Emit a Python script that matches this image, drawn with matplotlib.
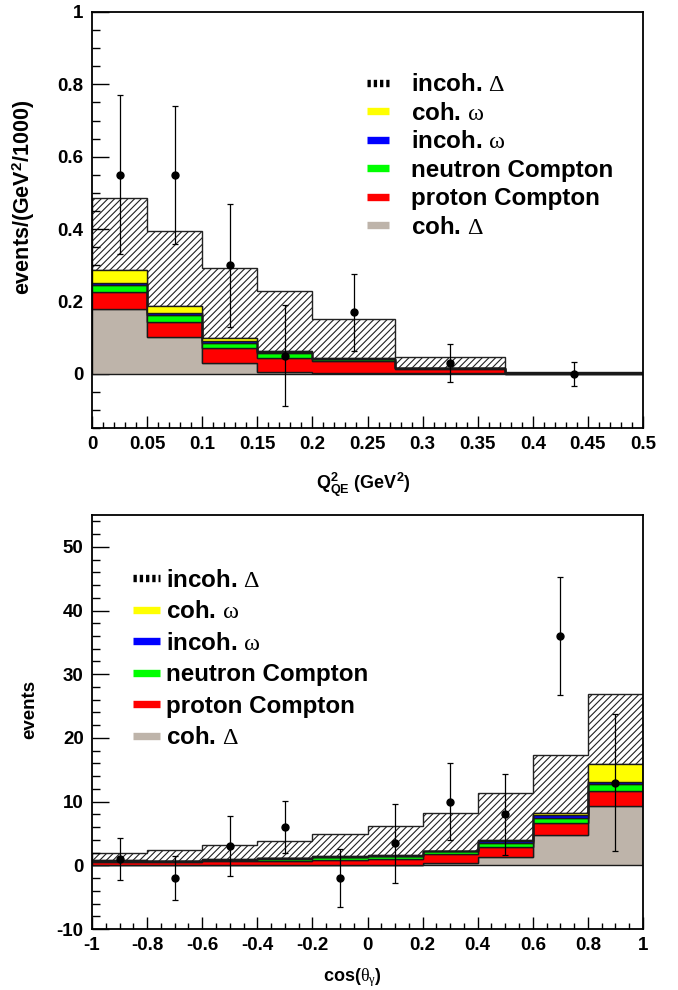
import numpy as np
import matplotlib
matplotlib.use("Agg")
import matplotlib.pyplot as plt
from matplotlib.lines import Line2D
from matplotlib.ticker import MultipleLocator, FuncFormatter

plt.rcParams["font.family"] = "Liberation Sans"
plt.rcParams["font.weight"] = "bold"
plt.rcParams["axes.labelweight"] = "bold"
plt.rcParams["mathtext.fontset"] = "custom"
plt.rcParams["mathtext.rm"] = "Liberation Serif:weight=normal"
plt.rcParams["mathtext.it"] = "Liberation Serif:italic:weight=normal"
plt.rcParams["mathtext.bf"] = "Liberation Sans:bold"
plt.rcParams["hatch.linewidth"] = 0.8

# ---- top panel: Q2_QE distribution ----
q2_edges = [0, 0.05, 0.1, 0.15, 0.2, 0.275, 0.375, 0.5]
q2_coh_delta = [0.180, 0.101, 0.029, 0.005, 0.002, 0.001, 0.0]
q2_proton = [0.045, 0.043, 0.041, 0.038, 0.032, 0.012, 0.002]
q2_neutron = [0.020, 0.019, 0.016, 0.015, 0.007, 0.003, 0.0005]
q2_incoh_omega = [0.006, 0.005, 0.004, 0.002, 0.001, 0.0005, 0.0]
q2_coh_omega = [0.037, 0.020, 0.009, 0.002, 0.001, 0.0005, 0.0]
q2_incoh_delta = [0.199, 0.206, 0.192, 0.168, 0.108, 0.029, 0.001]

q2_data = [0.55, 0.55, 0.30, 0.05, 0.17, 0.03, 0.0]
q2_err = [0.22, 0.19, 0.17, 0.14, 0.107, 0.053, 0.033]

# ---- bottom panel: cos(theta_gamma) distribution ----
cos_edges = [-1, -0.8, -0.6, -0.4, -0.2, 0, 0.2, 0.4, 0.6, 0.8, 1]
cos_coh_delta = [0.0, 0.0, 0.0, 0.05, 0.05, 0.05, 0.3, 1.3, 4.8, 9.3]
cos_proton = [0.5, 0.55, 0.63, 0.7, 0.75, 1.0, 1.4, 1.6, 1.9, 2.3]
cos_neutron = [0.2, 0.1, 0.22, 0.3, 0.45, 0.35, 0.5, 0.65, 0.8, 1.1]
cos_incoh_omega = [0.05, 0.03, 0.05, 0.07, 0.1, 0.1, 0.05, 0.3, 0.35, 0.4]
cos_coh_omega = [0.03, 0.02, 0.04, 0.03, 0.06, 0.07, 0.05, 0.05, 0.3, 2.8]
cos_incoh_delta = [1.15, 1.76, 2.19, 2.72, 3.45, 4.63, 5.85, 7.4, 9.2, 11.0]

cos_data = [1, -2, 3, 6, -2, 3.5, 10, 8, 36, 13]
cos_err = [3.3, 3.5, 4.7, 4.1, 4.6, 6.2, 6.1, 6.4, 9.3, 10.8]

labels = ["incoh. $\\mathrm{\\Delta}$", "coh. $\\mathrm{\\omega}$",
          "incoh. $\\mathrm{\\omega}$", "neutron Compton",
          "proton Compton", "coh. $\\mathrm{\\Delta}$"]
colors = ["#ffff00", "#0000ff", "#00ff00", "#ff0000", "#beb4aa"]


def fmt(v, pos):
    return "%g" % round(v, 6)


def draw_stack(ax, edges, comps):
    # comps from bottom: coh delta, proton, neutron, incoh omega, coh omega, incoh delta
    base = np.zeros(len(edges) - 1)
    fills = ["#beb4aa", "#ff0000", "#00ff00", "#0000ff", "#ffff00"]
    for vals, c in zip(comps[:5], fills):
        top = base + np.array(vals)
        ax.stairs(top, edges, baseline=base, fill=True, facecolor=c,
                  edgecolor="#1a1a1a", linewidth=1.0, zorder=2)
        base = top
    top = base + np.array(comps[5])
    ax.stairs(top, edges, baseline=base, fill=True, facecolor="white",
              edgecolor="#222222", hatch="/////", linewidth=1.0, zorder=1.5)


def style_axes(ax):
    for s in ax.spines.values():
        s.set_linewidth(1.3)
    ax.tick_params(which="both", direction="in", top=False, right=False,
                   labelsize=13.5, width=1.0, pad=6)
    ax.tick_params(axis="y", which="major", length=12)
    ax.tick_params(axis="y", which="minor", length=6)
    ax.tick_params(axis="x", which="major", length=9)
    ax.tick_params(axis="x", which="minor", length=4.5)
    ax.xaxis.set_major_formatter(FuncFormatter(fmt))
    ax.yaxis.set_major_formatter(FuncFormatter(fmt))


def legend_handles():
    h = [Line2D([], [], color="black", lw=5.3, dashes=(0.45, 0.4))]
    for c in colors:
        h.append(Line2D([], [], color=c, lw=5.3, solid_capstyle="butt"))
    return h


fig = plt.figure(figsize=(6.78, 9.9), dpi=100)

# top panel
ax1 = fig.add_axes([92 / 678, 1 - 428 / 990, 551 / 678, 416 / 990])
draw_stack(ax1, q2_edges,
           [q2_coh_delta, q2_proton, q2_neutron, q2_incoh_omega, q2_coh_omega, q2_incoh_delta])
q2_x = (np.array(q2_edges[:-1]) + np.array(q2_edges[1:])) / 2
ax1.errorbar(q2_x, q2_data, yerr=q2_err, fmt="o", color="black", ms=5,
             elinewidth=0.9, capsize=2, capthick=0.9, zorder=5)
ax1.set_xlim(0, 0.5)
ax1.set_ylim(-0.15, 1)
ax1.xaxis.set_major_locator(MultipleLocator(0.05))
ax1.xaxis.set_minor_locator(MultipleLocator(0.01))
ax1.yaxis.set_major_locator(MultipleLocator(0.2))
ax1.yaxis.set_minor_locator(MultipleLocator(0.05))
style_axes(ax1)
ax1.set_xlabel("$\\mathbf{Q^{2}_{QE}}$ (GeV$^{\\mathbf{2}}$)", fontsize=13)
ax1.xaxis.set_label_coords(0.492, -0.103)
ax1.set_ylabel("events/(GeV$^{\\mathbf{2}}$/1000)", fontsize=15.5)
ax1.yaxis.set_label_coords(-0.1, 0.555)
ax1.legend(legend_handles(), labels, loc="upper left", bbox_to_anchor=(0.499, 0.853),
           frameon=False, fontsize=17.4, borderpad=0, borderaxespad=0,
           handlelength=0.91, handletextpad=0.9, labelspacing=0.23)

# bottom panel
ax2 = fig.add_axes([92 / 678, 1 - 929 / 990, 551 / 678, 414 / 990])
draw_stack(ax2, cos_edges,
           [cos_coh_delta, cos_proton, cos_neutron, cos_incoh_omega, cos_coh_omega, cos_incoh_delta])
cos_x = (np.array(cos_edges[:-1]) + np.array(cos_edges[1:])) / 2
ax2.errorbar(cos_x, cos_data, yerr=cos_err, fmt="o", color="black", ms=5,
             elinewidth=0.9, capsize=2, capthick=0.9, zorder=5)
ax2.set_xlim(-1, 1)
ax2.set_ylim(-10, 55)
ax2.xaxis.set_major_locator(MultipleLocator(0.2))
ax2.xaxis.set_minor_locator(MultipleLocator(0.05))
ax2.yaxis.set_major_locator(MultipleLocator(10))
ax2.yaxis.set_minor_locator(MultipleLocator(2))
style_axes(ax2)
ax2.set_xlabel("cos($\\mathrm{\\theta}_{\\mathrm{\\gamma}}$)", fontsize=13)
ax2.xaxis.set_label_coords(0.472, -0.09)
ax2.set_ylabel("events", fontsize=13.5)
ax2.yaxis.set_label_coords(-0.098, 0.53)
ax2.legend(legend_handles(), labels, loc="upper left", bbox_to_anchor=(0.0744, 0.87),
           frameon=False, fontsize=17.4, borderpad=0, borderaxespad=0,
           handlelength=1.12, handletextpad=0.24, labelspacing=0.35)

fig.savefig("out.png", dpi=100)
